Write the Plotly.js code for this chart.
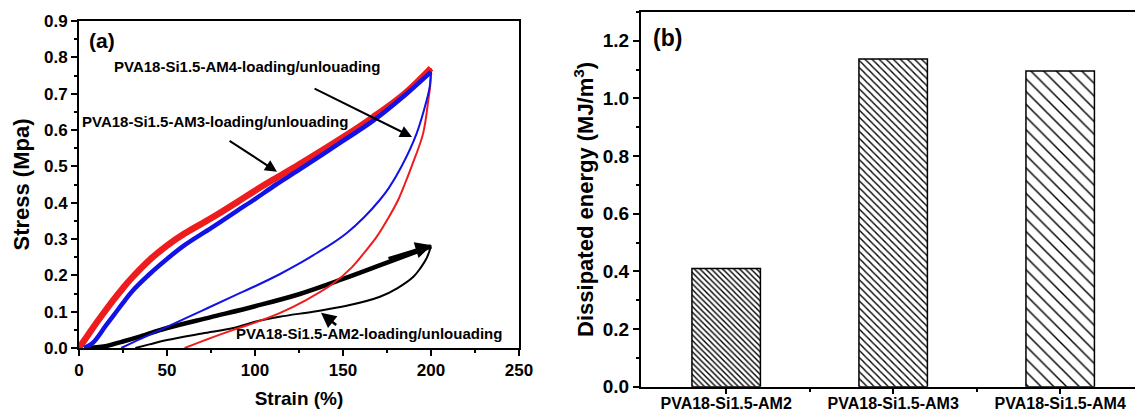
<!DOCTYPE html>
<html>
<head>
<meta charset="utf-8">
<script src="https://cdn.plot.ly/plotly-3.0.1.min.js"></script>
<style>html,body{margin:0;padding:0;background:#fff;}#chart{width:1135px;height:412px;}</style>
</head>
<body>
<div id="chart"></div>
<script>
// ---------- Panel (a): loading / unloading curves ----------
const strainAM4Load = [0, 5, 10, 15, 20, 25, 30, 40, 50, 60, 75, 90, 100, 112, 125, 150, 167, 185, 200];
const stressAM4Load = [0, 0.035, 0.07, 0.103, 0.135, 0.165, 0.193, 0.242, 0.282, 0.315, 0.357, 0.402, 0.433, 0.468, 0.505, 0.58, 0.635, 0.7, 0.77];
const strainAM4Unload = [200, 199.5, 198.5, 195.5, 189, 185, 181.4, 176, 169, 162, 155, 144, 129, 114, 100, 87.7, 75, 60];
const stressAM4Unload = [0.77, 0.72, 0.683, 0.59, 0.5, 0.45, 0.408, 0.36, 0.305, 0.262, 0.222, 0.176, 0.132, 0.096, 0.07, 0.05, 0.028, 0];

const strainAM3Load = [3, 8, 15, 20, 25, 30, 40, 50, 60, 75, 90, 100, 112, 125, 150, 167, 185, 200];
const stressAM3Load = [0, 0.015, 0.06, 0.092, 0.124, 0.155, 0.203, 0.245, 0.283, 0.33, 0.378, 0.41, 0.45, 0.49, 0.57, 0.625, 0.695, 0.76];
const strainAM3Unload = [200, 199.3, 197.6, 191.8, 183.3, 176, 171, 162, 152, 143, 133, 125, 114, 100, 87.7, 70, 50, 35, 24];
const stressAM3Unload = [0.76, 0.72, 0.683, 0.59, 0.5, 0.44, 0.408, 0.36, 0.316, 0.285, 0.255, 0.232, 0.203, 0.17, 0.143, 0.103, 0.058, 0.025, 0];

const strainAM2Load = [3, 15, 25, 35, 50, 75, 100, 125, 150, 175, 200];
const stressAM2Load = [0, 0.005, 0.018, 0.032, 0.055, 0.085, 0.115, 0.148, 0.19, 0.235, 0.28];
const strainAM2Unload = [200, 197.5, 194, 190, 181, 171, 152, 133, 114, 100, 87.7, 70, 50, 40, 32];
const stressAM2Unload = [0.28, 0.247, 0.22, 0.196, 0.165, 0.141, 0.116, 0.1, 0.086, 0.072, 0.055, 0.04, 0.022, 0.01, 0];

const curveLabels = ["PVA18-Si1.5-AM4-loading/unlouading", "PVA18-Si1.5-AM3-loading/unlouading", "PVA18-Si1.5-AM2-loading/unlouading"];

// ---------- Panel (b): dissipated energy ----------
const categories = ["PVA18-Si1.5-AM2", "PVA18-Si1.5-AM3", "PVA18-Si1.5-AM4"];
const dissipatedEnergy = [0.41, 1.137, 1.095];

const FONT = "Liberation Sans, Arial, Helvetica, sans-serif";
const RED = "#ee1c1c", BLUE = "#1212e6";

function line(x, y, color, width) {
  return {type: "scatter", mode: "lines", x: x, y: y, xaxis: "x", yaxis: "y",
          line: {color: color, width: width, shape: "spline", smoothing: 1}, hoverinfo: "skip"};
}

const traces = [
  line(strainAM2Unload, stressAM2Unload, "#000", 2),
  line(strainAM2Load, stressAM2Load, "#000", 4.5),
  line(strainAM4Unload, stressAM4Unload, RED, 2),
  line(strainAM4Load, stressAM4Load, RED, 6.5),
  line(strainAM3Unload, stressAM3Unload, BLUE, 2),
  line(strainAM3Load, stressAM3Load, BLUE, 4.5),
  {
    type: "bar", x: categories.map((c, i) => i), y: dissipatedEnergy, xaxis: "x2", yaxis: "y2",
    width: 0.41, hoverinfo: "skip",
    marker: {
      color: "#fff",
      line: {color: "#000", width: 1.5},
      pattern: {shape: ["\\", "\\", "\\"], size: [4, 5, 9], solidity: [0.35, 0.28, 0.16], fgcolor: "#000", bgcolor: "#fff", fillmode: "replace"}
    }
  }
];

const bold = {family: FONT, color: "#000", weight: "bold"};
const axisCommon = {showgrid: false, zeroline: false, showline: true, linecolor: "#000", linewidth: 2,
                    ticks: "outside", ticklen: 6, tickwidth: 2, tickcolor: "#000", automargin: false};

const n = strainAM2Load.length;
const annotations = [
  {xref: "paper", yref: "paper", x: 87 / 1135, y: 1 - 41 / 412, xanchor: "left", yanchor: "middle",
   text: "(a)", showarrow: false, font: Object.assign({}, bold, {size: 21})},
  {xref: "paper", yref: "paper", x: 651 / 1135, y: 1 - 38 / 412, xanchor: "left", yanchor: "middle",
   text: "(b)", showarrow: false, font: Object.assign({}, bold, {size: 23})},
  {xref: "x", yref: "y", x: 18.7, y: 0.775, xanchor: "left", yanchor: "middle", text: curveLabels[0], showarrow: false, font: Object.assign({}, bold, {size: 15})},
  {xref: "x", yref: "y", x: 0.6, y: 0.623, xanchor: "left", yanchor: "middle", text: curveLabels[1], showarrow: false, font: Object.assign({}, bold, {size: 15})},
  {xref: "x", yref: "y", x: 88, y: 0.04, xanchor: "left", yanchor: "middle", text: curveLabels[2], showarrow: false, font: Object.assign({}, bold, {size: 15})},
  // arrows
  {xref: "x", yref: "y", axref: "x", ayref: "y", x: 189.2, y: 0.581, ax: 133, ay: 0.716, text: "", showarrow: true, arrowhead: 2, arrowsize: 1.2, arrowwidth: 2, arrowcolor: "#000", standoff: 0},
  {xref: "x", yref: "y", axref: "x", ayref: "y", x: 112.5, y: 0.485, ax: 84.7, ay: 0.573, text: "", showarrow: true, arrowhead: 2, arrowsize: 1.2, arrowwidth: 2, arrowcolor: "#000", standoff: 0},
  {xref: "x", yref: "y", axref: "x", ayref: "y", x: 137.5, y: 0.097, ax: 147, ay: 0.06, text: "", showarrow: true, arrowhead: 2, arrowsize: 1.2, arrowwidth: 2.5, arrowcolor: "#000", standoff: 0},
  {xref: "x", yref: "y", axref: "x", ayref: "y", x: strainAM2Load[n - 1] + 0.5, y: stressAM2Load[n - 1] + 0.003, ax: strainAM2Load[n - 2], ay: stressAM2Load[n - 2] + 0.01, text: "", showarrow: true, arrowhead: 2, arrowsize: 1.1, arrowwidth: 3, arrowcolor: "#000", standoff: 0}
];

const layout = {
  width: 1135, height: 412,
  margin: {l: 0, r: 0, t: 0, b: 0},
  paper_bgcolor: "#fff", plot_bgcolor: "#fff",
  showlegend: false,
  font: {family: FONT, color: "#000"},
  xaxis: Object.assign({}, axisCommon, {
    domain: [79 / 1135, 519 / 1135], range: [0, 250], tick0: 0, dtick: 50, mirror: true,
    tickfont: Object.assign({}, bold, {size: 17}),
    minor: {ticks: "outside", ticklen: 3, tickwidth: 2, tickcolor: "#000", tick0: 0, dtick: 25, showgrid: false},
    title: {text: "Strain (%)", font: Object.assign({}, bold, {size: 19}), standoff: 12}
  }),
  yaxis: Object.assign({}, axisCommon, {
    domain: [1 - 348 / 412, 1 - 21 / 412], range: [0, 0.9], tick0: 0, dtick: 0.1, tickformat: ".1f", mirror: true,
    tickfont: Object.assign({}, bold, {size: 17}),
    minor: {ticks: "outside", ticklen: 3, tickwidth: 2, tickcolor: "#000", tick0: 0, dtick: 0.05, showgrid: false},
    title: {text: "Stress (Mpa)", font: Object.assign({}, bold, {size: 22}), standoff: 8}
  }),
  xaxis2: Object.assign({}, axisCommon, {
    anchor: "y2", domain: [641 / 1135, 1], range: [-0.51, 2.448], mirror: true, ticklen: 5,
    tickmode: "array", tickvals: categories.map((c, i) => i), ticktext: categories,
    tickfont: Object.assign({}, bold, {size: 16}), ticklabelstandoff: -4,
    minor: {ticks: "outside", ticklen: 3, tickwidth: 2, tickcolor: "#000", tickmode: "array", tickvals: [0.5, 1.5], showgrid: false}
  }),
  yaxis2: Object.assign({}, axisCommon, {
    anchor: "x2", domain: [1 - 386.7 / 412, 1 - 12 / 412], range: [0, 1.3], tick0: 0, dtick: 0.2, tickformat: ".1f", mirror: false,
    tickfont: Object.assign({}, bold, {size: 19}),
    minor: {ticks: "outside", ticklen: 3, tickwidth: 2, tickcolor: "#000", tick0: 0, dtick: 0.1, showgrid: false},
    title: {text: "Dissipated energy (MJ/m<sup>3</sup>)", font: Object.assign({}, bold, {size: 22}), standoff: 3}
  }),
  annotations: annotations
};

Plotly.newPlot("chart", traces, layout, {staticPlot: true, displayModeBar: false});
</script>
</body>
</html>
